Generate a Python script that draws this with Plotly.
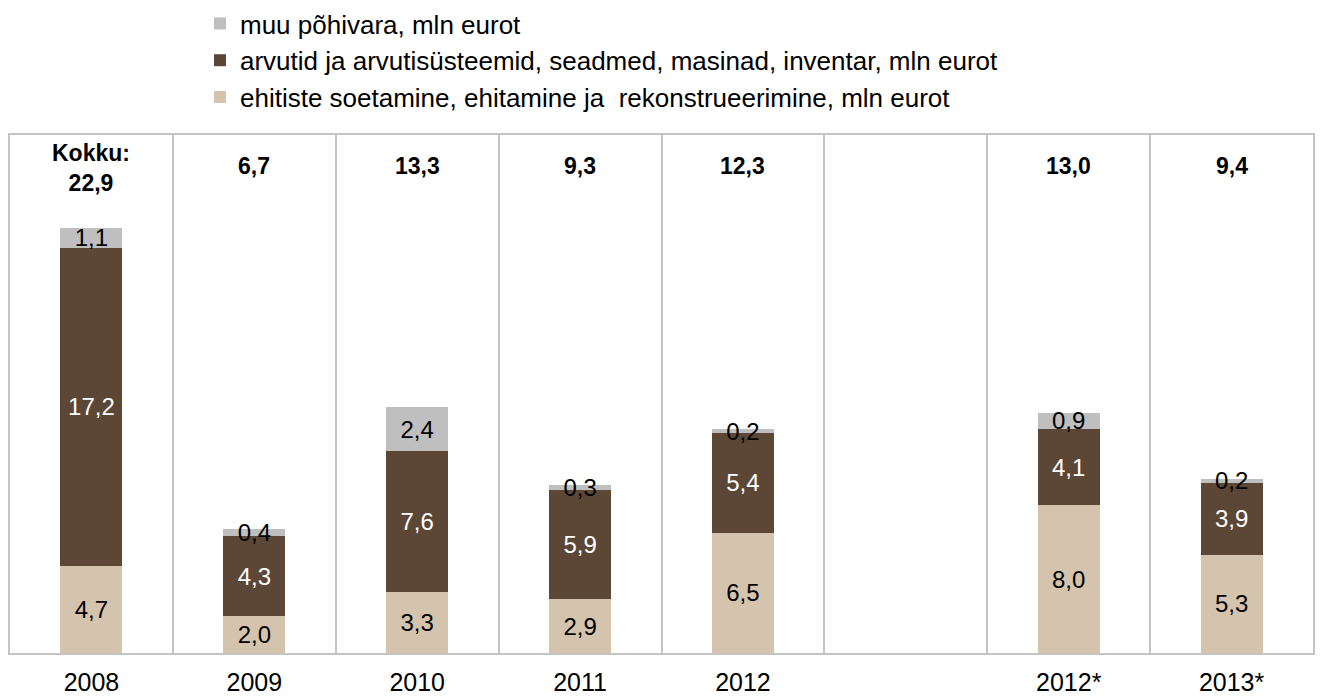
import plotly.graph_objects as go

categories = ["2008", "2009", "2010", "2011", "2012", "", "2012*", "2013*"]
ehitised = [4.7, 2.0, 3.3, 2.9, 6.5, None, 8.0, 5.3]
arvutid = [17.2, 4.3, 7.6, 5.9, 5.4, None, 4.1, 3.9]
muu = [1.1, 0.4, 2.4, 0.3, 0.2, None, 0.9, 0.2]
totals = [22.9, 6.7, 13.3, 9.3, 12.3, None, 13.0, 9.4]

names = [
    "ehitiste soetamine, ehitamine ja  rekonstrueerimine, mln eurot",
    "arvutid ja arvutisüsteemid, seadmed, masinad, inventar, mln eurot",
    "muu põhivara, mln eurot",
]
colors = ["#D5C4AD", "#5C4736", "#BFBFBF"]
text_colors = ["#000000", "#FFFFFF", "#000000"]
ranks = [3, 2, 1]

FONT = "Liberation Sans, Arial, sans-serif"

def fmt(v):
    return "" if v is None else f"{v:.1f}".replace(".", ",")

xpos = list(range(len(categories)))
fig = go.Figure()
for i, (vals, name) in enumerate(zip([ehitised, arvutid, muu], names)):
    fig.add_trace(go.Bar(
        x=xpos, y=vals, name=name, legendgroup=name, legendrank=ranks[i],
        marker=dict(color=colors[i], line=dict(width=0)),
        width=0.38,
        text=[fmt(v) for v in vals],
        textposition="inside", insidetextanchor="middle", textangle=0,
        constraintext="none",
        textfont=dict(family=FONT, size=24, color=text_colors[i]),
        hoverinfo="skip",
    ))

annotations = []
for i, t in enumerate(totals):
    if t is None:
        continue
    label = f"<b>Kokku:<br>{fmt(t)}</b>" if i == 0 else f"<b>{fmt(t)}</b>"
    annotations.append(dict(
        x=xpos[i], y=26.3, xref="x", yref="y", text=label,
        showarrow=False, yanchor="middle", xanchor="center",
        yshift=-2 if i == 0 else 0,
        font=dict(family=FONT, size=23, color="#000000"),
    ))

tickvals = [p for p, c in zip(xpos, categories) if c]
ticktext = [c for c in categories if c]

fig.update_layout(
    barmode="stack",
    width=1322, height=698,
    margin=dict(l=10, r=9, t=135, b=45, autoexpand=False),
    paper_bgcolor="white", plot_bgcolor="white",
    font=dict(family=FONT, size=24, color="#000000"),
    showlegend=True,
    legend=dict(
        x=0.1458, y=1.2606, xanchor="left", yanchor="top",
        traceorder="grouped", tracegroupgap=0,
        font=dict(family=FONT, size=26, color="#000000"),
        itemclick=False, itemdoubleclick=False,
        bgcolor="rgba(0,0,0,0)",
    ),
    annotations=annotations,
    uniformtext=dict(minsize=24, mode="show"),
)
fig.update_xaxes(
    range=[-0.5, 7.5], tickmode="array", tickvals=tickvals, ticktext=ticktext,
    showgrid=False, zeroline=False,
    showline=True, mirror=True, linecolor="#C4C4C4", linewidth=2,
    ticks="", ticklabelstandoff=6,
    tickfont=dict(family=FONT, size=25, color="#000000"),
    minor=dict(tickmode="array", tickvals=[0.5, 1.5, 2.5, 3.5, 4.5, 5.5, 6.5],
               showgrid=True, gridcolor="#C4C4C4", gridwidth=2, ticks=""),
)
fig.update_yaxes(
    range=[0, 28], showgrid=False, zeroline=False, showticklabels=False,
    showline=True, mirror=True, linecolor="#C4C4C4", linewidth=2, ticks="",
)

fig.write_html(
    "out.html",
    config={"displayModeBar": False},
    post_script="document.body.style.margin='0';document.body.style.overflow='hidden';",
)
